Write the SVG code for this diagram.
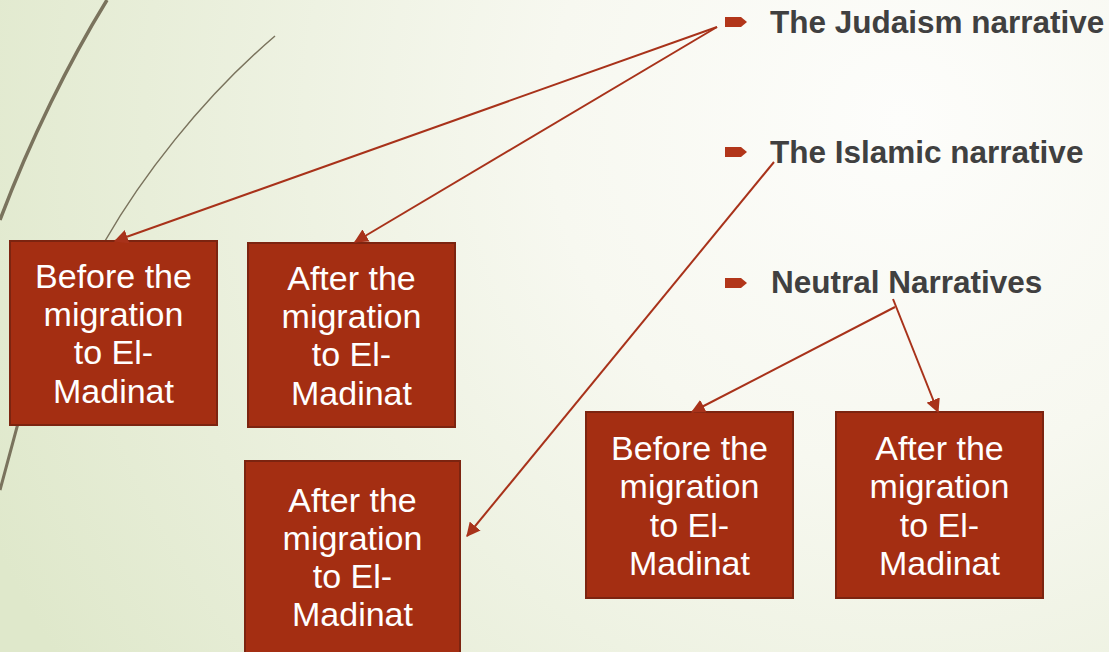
<svg xmlns="http://www.w3.org/2000/svg" width="1109" height="652" viewBox="0 0 1109 652">
<defs>
<radialGradient id="bg" cx="900" cy="120" r="1000" gradientUnits="userSpaceOnUse">
<stop offset="0" stop-color="#fdfdfb"/>
<stop offset="0.35" stop-color="#f7f8f0"/>
<stop offset="1" stop-color="#dfe8cb"/>
</radialGradient>
<marker id="arr" viewBox="0 0 12 12" refX="11" refY="6" markerWidth="14" markerHeight="14" markerUnits="userSpaceOnUse" orient="auto">
<path d="M0,0 L12,6 L0,12 z" fill="#a8321a"/>
</marker>
<style>
.box{fill:#a42e12;stroke:#7c2410;stroke-width:2}
.bt{fill:#ffffff;font-family:"Liberation Sans",Arial,sans-serif;font-size:34px;text-anchor:middle}
.lbl{fill:#404040;font-family:"Liberation Sans",Arial,sans-serif;font-size:31.5px;font-weight:bold}
.bul{fill:#b2361a}
.con{fill:none;stroke:#a8321a;stroke-width:2}
.deco{fill:none;stroke:#7a735d}
</style>
</defs>
<rect width="1109" height="652" fill="url(#bg)"/>
<g id="decor">
<path class="deco" stroke-width="3.5" d="M107,0 C70,60 30,140 0,220"/>
<path class="deco" stroke-width="1.5" d="M275,36 C200,100 140,180 105,241"/>
<path class="deco" stroke-width="3" d="M60,330 C40,370 25,400 17,427 L0,490"/>
</g>
<g id="bullets">
<g id="judaism">
<path class="bul" d="M725,17 L741,17 L747,22 L741,27 L725,27 z"/>
<text class="lbl" x="770" y="33">The Judaism narrative</text>
</g>
<g id="islamic">
<path class="bul" d="M725,147 L741,147 L747,152 L741,157 L725,157 z"/>
<text class="lbl" x="770" y="163">The Islamic narrative</text>
</g>
<g id="neutral">
<path class="bul" d="M725,278 L741,278 L747,283 L741,288 L725,288 z"/>
<text class="lbl" x="771" y="293">Neutral Narratives</text>
</g>
</g>
<g id="box1">
<rect class="box" x="10" y="241" width="207" height="184"/>
<text class="bt" x="113.5" y="288">Before the</text>
<text class="bt" x="113.5" y="326">migration</text>
<text class="bt" x="113.5" y="364">to El-</text>
<text class="bt" x="113.5" y="403">Madinat</text>
</g>
<g id="box2">
<rect class="box" x="248" y="243" width="207" height="184"/>
<text class="bt" x="351.5" y="290">After the</text>
<text class="bt" x="351.5" y="328">migration</text>
<text class="bt" x="351.5" y="366">to El-</text>
<text class="bt" x="351.5" y="405">Madinat</text>
</g>
<g id="box3">
<rect class="box" x="245" y="461" width="215" height="200"/>
<text class="bt" x="352.5" y="512">After the</text>
<text class="bt" x="352.5" y="550">migration</text>
<text class="bt" x="352.5" y="588">to El-</text>
<text class="bt" x="352.5" y="626">Madinat</text>
</g>
<g id="box4">
<rect class="box" x="586" y="412" width="207" height="186"/>
<text class="bt" x="689.5" y="460">Before the</text>
<text class="bt" x="689.5" y="498">migration</text>
<text class="bt" x="689.5" y="537">to El-</text>
<text class="bt" x="689.5" y="575">Madinat</text>
</g>
<g id="box5">
<rect class="box" x="836" y="412" width="207" height="186"/>
<text class="bt" x="939.5" y="460">After the</text>
<text class="bt" x="939.5" y="498">migration</text>
<text class="bt" x="939.5" y="537">to El-</text>
<text class="bt" x="939.5" y="575">Madinat</text>
</g>
<g id="connectors">
<line class="con" x1="717" y1="27" x2="115" y2="241" marker-end="url(#arr)"/>
<line class="con" x1="717" y1="27" x2="355" y2="242" marker-end="url(#arr)"/>
<line class="con" x1="774" y1="162" x2="467" y2="536" marker-end="url(#arr)"/>
<line class="con" x1="895" y1="307" x2="692" y2="412" marker-end="url(#arr)"/>
<line class="con" x1="893" y1="299" x2="938" y2="412" marker-end="url(#arr)"/>
</g>
</svg>
